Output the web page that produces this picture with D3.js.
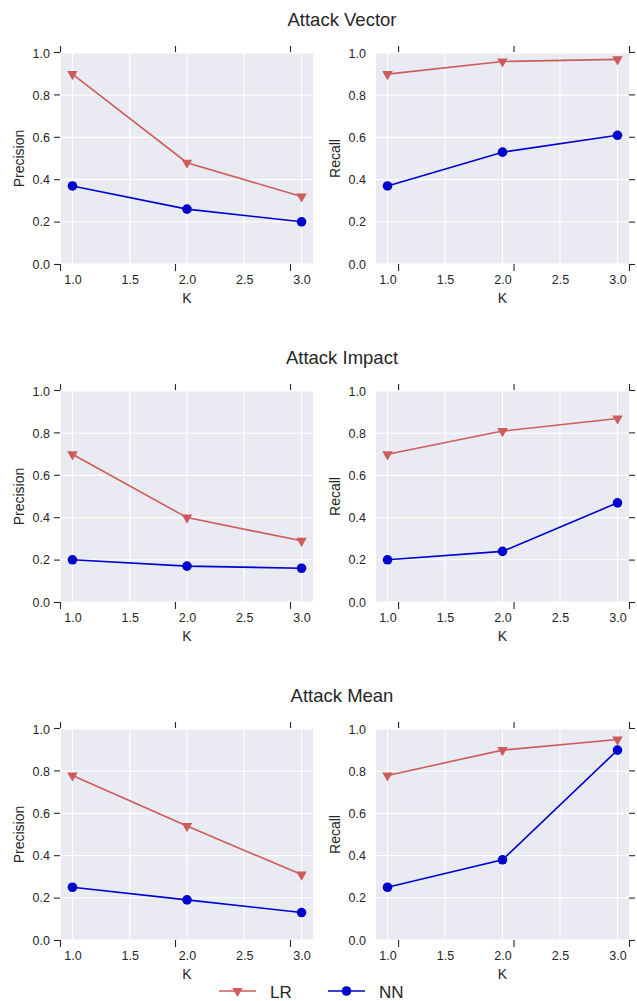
<!DOCTYPE html>
<html>
<head>
<meta charset="utf-8">
<script src="https://cdn.jsdelivr.net/npm/d3@7"></script>
<style>
  body { margin: 0; background: #fff; }
  svg { display: block; font-family: "Liberation Sans", Arial, sans-serif; }
</style>
</head>
<body>
<div id="chart"></div>
<script>
const kValues = [1, 2, 3];
const panelTitles = ["Attack Vector", "Attack Impact", "Attack Mean"];
const metricNames = ["Precision", "Recall"];

// one row per title, one value per K
const lrPrecision = [[0.90, 0.48, 0.32], [0.70, 0.40, 0.29], [0.78, 0.54, 0.31]];
const nnPrecision = [[0.37, 0.26, 0.20], [0.20, 0.17, 0.16], [0.25, 0.19, 0.13]];
const lrRecall = [[0.90, 0.96, 0.97], [0.70, 0.81, 0.87], [0.78, 0.90, 0.95]];
const nnRecall = [[0.37, 0.53, 0.61], [0.20, 0.24, 0.47], [0.25, 0.38, 0.90]];

const xTicks = [1.0, 1.5, 2.0, 2.5, 3.0];
const yTicks = [0.0, 0.2, 0.4, 0.6, 0.8, 1.0];
const seriesNames = ["LR", "NN"];

const width = 637, height = 1001;
const textColor = "#262626";
const bg = "#EAEAF2";
const lrColor = "#CD5C5C";
const nnColor = "#0000CD";

const cols = [{x0: 61, x1: 313, twin: [1.0, 3.2], side: "left"},
              {x0: 376, x1: 629, twin: [0.8, 3.0], side: "right"}];
const rowTop = [53, 391, 729];
const panelH = 211;

const svg = d3.select("#chart").append("svg")
    .attr("width", width)
    .attr("height", height);

const fmt = d3.format(".1f");
const triSize = 48, dotR = 4.8;

function drawPanel(r, c) {
    const col = cols[c];
    const top = rowTop[r];
    const bottom = top + panelH;
    const x = d3.scaleLinear().domain([0.9, 3.1]).range([col.x0, col.x1]);
    const y = d3.scaleLinear().domain([0, 1]).range([bottom, top]);

    const g = svg.append("g");

    g.append("rect")
        .attr("x", col.x0).attr("y", top)
        .attr("width", col.x1 - col.x0).attr("height", panelH)
        .attr("fill", bg);

    // white grid
    g.selectAll(".gx").data(xTicks).enter().append("line")
        .attr("x1", d => x(d)).attr("x2", d => x(d))
        .attr("y1", top).attr("y2", bottom)
        .attr("stroke", "#fff").attr("stroke-width", 1.1);
    g.selectAll(".gy").data(yTicks).enter().append("line")
        .attr("x1", col.x0).attr("x2", col.x1)
        .attr("y1", d => y(d)).attr("y2", d => y(d))
        .attr("stroke", "#fff").attr("stroke-width", 1.1);

    // tick labels (no tick marks)
    const xAxis = d3.axisBottom(x).tickValues(xTicks).tickSize(0).tickPadding(11).tickFormat(fmt);
    const xa = g.append("g").attr("transform", `translate(0,${bottom})`).call(xAxis);
    xa.select(".domain").remove();
    xa.selectAll("text").attr("fill", textColor).style("font-size", "12.5px")
        .style("font-family", "'Liberation Sans', Arial, sans-serif");

    const pad = c === 0 ? 11 : 10;
    const yAxis = d3.axisLeft(y).tickValues(yTicks).tickSize(0).tickPadding(pad).tickFormat(fmt);
    const ya = g.append("g").attr("transform", `translate(${col.x0},0)`).call(yAxis);
    ya.select(".domain").remove();
    ya.selectAll("text").attr("fill", textColor).style("font-size", "12.5px")
        .style("font-family", "'Liberation Sans', Arial, sans-serif");

    // dark ticks of the overlaid axes
    const tx = d3.scaleLinear().domain(col.twin).range([col.x0 - 1, col.x1]);
    const ty = d3.scaleLinear().domain([0, 1]).range([bottom, top - 1]);
    const tickG = [
        g.append("g").attr("transform", `translate(0,${top - 1})`)
            .call(d3.axisTop(tx).tickValues(kValues).tickSize(6).tickFormat("")),
        g.append("g").attr("transform", `translate(0,${bottom})`)
            .call(d3.axisBottom(tx).tickValues(kValues).tickSize(7).tickFormat(""))
    ];
    if (col.side === "left") {
        tickG.push(g.append("g").attr("transform", `translate(${col.x0 - 1},0)`)
            .call(d3.axisLeft(ty).tickValues(yTicks).tickSize(6).tickFormat("")));
    } else {
        tickG.push(g.append("g").attr("transform", `translate(${col.x1},0)`)
            .call(d3.axisRight(ty).tickValues(yTicks).tickSize(6).tickFormat("")));
    }
    tickG.forEach(t => {
        t.select(".domain").remove();
        t.selectAll("line").attr("stroke", textColor).attr("stroke-width", 1.1);
    });

    // axis labels
    g.append("text")
        .attr("x", (col.x0 + col.x1) / 2).attr("y", bottom + 39)
        .attr("text-anchor", "middle").attr("fill", textColor)
        .style("font-size", "14px").text("K");
    const lx = c === 0 ? 23.5 : 339.5;
    g.append("text")
        .attr("transform", `translate(${lx},${(top + bottom) / 2}) rotate(-90)`)
        .attr("text-anchor", "middle").attr("fill", textColor)
        .style("font-size", "14px").text(metricNames[c]);

    const lrVals = c === 0 ? lrPrecision[r] : lrRecall[r];
    const nnVals = c === 0 ? nnPrecision[r] : nnRecall[r];

    const line = d3.line().x((d, i) => x(kValues[i])).y(d => y(d));

    g.append("path").datum(lrVals).attr("d", line)
        .attr("fill", "none").attr("stroke", lrColor).attr("stroke-width", 1.6);
    g.append("path").datum(nnVals).attr("d", line)
        .attr("fill", "none").attr("stroke", nnColor).attr("stroke-width", 1.6);

    const tri = d3.symbol(d3.symbolTriangle, triSize);
    g.selectAll(".lr").data(lrVals).enter().append("path")
        .attr("d", tri)
        .attr("transform", (d, i) => `translate(${x(kValues[i])},${y(d)}) rotate(180)`)
        .attr("fill", lrColor);
    g.selectAll(".nn").data(nnVals).enter().append("circle")
        .attr("cx", (d, i) => x(kValues[i])).attr("cy", d => y(d))
        .attr("r", dotR).attr("fill", nnColor);
}

panelTitles.forEach((title, r) => {
    svg.append("text")
        .attr("x", 342).attr("y", rowTop[r] - 27)
        .attr("text-anchor", "middle").attr("fill", textColor)
        .style("font-size", "18.5px").text(title);
    drawPanel(r, 0);
    drawPanel(r, 1);
});

// legend
const legendY = 991;
const legendX = [219, 328];
const legendColors = [lrColor, nnColor];
seriesNames.forEach((name, i) => {
    const lg = svg.append("g").attr("transform", `translate(${legendX[i]},${legendY})`);
    lg.append("line").attr("x1", 0).attr("x2", 37).attr("y1", 0).attr("y2", 0)
        .attr("stroke", legendColors[i]).attr("stroke-width", 1.6);
    if (i === 0) {
        lg.append("path").attr("d", d3.symbol(d3.symbolTriangle, triSize))
            .attr("transform", "translate(18.5,0) rotate(180)").attr("fill", lrColor);
    } else {
        lg.append("circle").attr("cx", 18.5).attr("cy", 0).attr("r", dotR).attr("fill", nnColor);
    }
    lg.append("text").attr("x", 51).attr("y", 6.5)
        .attr("fill", textColor).style("font-size", "17px").text(name);
});
</script>
</body>
</html>
